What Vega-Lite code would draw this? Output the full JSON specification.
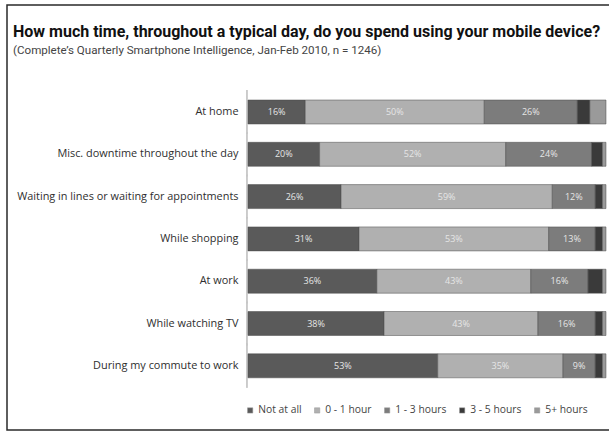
{
  "$schema": "https://vega.github.io/schema/vega-lite/v6.json",
  "width": 603,
  "height": 425,
  "autosize": {"type": "none"},
  "padding": {"left": 7, "top": 5, "right": 0, "bottom": 12},
  "background": "white",
  "config": {
    "view": {"stroke": "#2a2a2a", "strokeWidth": 1.5},
    "font": "Open Sans"
  },
  "title": {
    "text": "How much time, throughout a typical day, do you spend using your mobile device?",
    "subtitle": "(Complete’s Quarterly Smartphone Intelligence, Jan-Feb 2010, n = 1246)",
    "anchor": "start",
    "frame": "group",
    "orient": "top",
    "offset": 0,
    "dx": 6,
    "dy": 52,
    "font": "Roboto",
    "fontSize": 16,
    "fontWeight": "bold",
    "color": "#111",
    "subtitleFont": "Roboto",
    "subtitleFontSize": 11.6,
    "subtitleColor": "#444",
    "subtitlePadding": 5
  },
  "data": {
    "values": [
      {"cat": "At home", "time": "Not at all", "seq": 1, "value": 0.16},
      {"cat": "At home", "time": "0 - 1 hour", "seq": 2, "value": 0.50},
      {"cat": "At home", "time": "1 - 3 hours", "seq": 3, "value": 0.26},
      {"cat": "At home", "time": "3 - 5 hours", "seq": 4, "value": 0.035},
      {"cat": "At home", "time": "5+ hours", "seq": 5, "value": 0.045},
      {"cat": "Misc. downtime throughout the day", "time": "Not at all", "seq": 1, "value": 0.20},
      {"cat": "Misc. downtime throughout the day", "time": "0 - 1 hour", "seq": 2, "value": 0.52},
      {"cat": "Misc. downtime throughout the day", "time": "1 - 3 hours", "seq": 3, "value": 0.24},
      {"cat": "Misc. downtime throughout the day", "time": "3 - 5 hours", "seq": 4, "value": 0.03},
      {"cat": "Misc. downtime throughout the day", "time": "5+ hours", "seq": 5, "value": 0.01},
      {"cat": "Waiting in lines or waiting for appointments", "time": "Not at all", "seq": 1, "value": 0.26},
      {"cat": "Waiting in lines or waiting for appointments", "time": "0 - 1 hour", "seq": 2, "value": 0.59},
      {"cat": "Waiting in lines or waiting for appointments", "time": "1 - 3 hours", "seq": 3, "value": 0.12},
      {"cat": "Waiting in lines or waiting for appointments", "time": "3 - 5 hours", "seq": 4, "value": 0.02},
      {"cat": "Waiting in lines or waiting for appointments", "time": "5+ hours", "seq": 5, "value": 0.01},
      {"cat": "While shopping", "time": "Not at all", "seq": 1, "value": 0.31},
      {"cat": "While shopping", "time": "0 - 1 hour", "seq": 2, "value": 0.53},
      {"cat": "While shopping", "time": "1 - 3 hours", "seq": 3, "value": 0.13},
      {"cat": "While shopping", "time": "3 - 5 hours", "seq": 4, "value": 0.02},
      {"cat": "While shopping", "time": "5+ hours", "seq": 5, "value": 0.01},
      {"cat": "At work", "time": "Not at all", "seq": 1, "value": 0.36},
      {"cat": "At work", "time": "0 - 1 hour", "seq": 2, "value": 0.43},
      {"cat": "At work", "time": "1 - 3 hours", "seq": 3, "value": 0.16},
      {"cat": "At work", "time": "3 - 5 hours", "seq": 4, "value": 0.04},
      {"cat": "At work", "time": "5+ hours", "seq": 5, "value": 0.01},
      {"cat": "While watching TV", "time": "Not at all", "seq": 1, "value": 0.38},
      {"cat": "While watching TV", "time": "0 - 1 hour", "seq": 2, "value": 0.43},
      {"cat": "While watching TV", "time": "1 - 3 hours", "seq": 3, "value": 0.16},
      {"cat": "While watching TV", "time": "3 - 5 hours", "seq": 4, "value": 0.02},
      {"cat": "While watching TV", "time": "5+ hours", "seq": 5, "value": 0.01},
      {"cat": "During my commute to work", "time": "Not at all", "seq": 1, "value": 0.53},
      {"cat": "During my commute to work", "time": "0 - 1 hour", "seq": 2, "value": 0.35},
      {"cat": "During my commute to work", "time": "1 - 3 hours", "seq": 3, "value": 0.09},
      {"cat": "During my commute to work", "time": "3 - 5 hours", "seq": 4, "value": 0.02},
      {"cat": "During my commute to work", "time": "5+ hours", "seq": 5, "value": 0.01}
    ]
  },
  "transform": [
    {"stack": "value", "groupby": ["cat"], "sort": [{"field": "seq", "order": "ascending"}], "as": ["v0", "v1"]}
  ],
  "encoding": {
    "y": {
      "field": "cat",
      "type": "nominal",
      "sort": null,
      "scale": {"range": [95, 372.8], "paddingInner": 0.433, "paddingOuter": 0},
      "axis": {
        "title": null,
        "orient": "left",
        "offset": -241,
        "domain": false,
        "ticks": false,
        "labelPadding": 10,
        "labelFont": "Open Sans",
        "labelFontSize": 10.9,
        "labelColor": "#2e2e2e",
        "labelLimit": 300
      }
    }
  },
  "layer": [
    {
      "mark": {"type": "tick", "orient": "vertical", "size": 44, "thickness": 1, "color": "#c8c8c8"},
      "encoding": {
        "x": {"datum": -0.003, "type": "quantitative", "scale": {"domain": [-0.6732, 1.0112], "zero": false, "nice": false}, "axis": null}
      }
    },
    {
      "mark": {"type": "bar", "stroke": "#4a4a4a", "strokeWidth": 0.5},
      "encoding": {
        "x": {"field": "v0", "type": "quantitative", "scale": {"domain": [-0.6732, 1.0112], "zero": false, "nice": false}, "axis": null},
        "x2": {"field": "v1"},
        "color": {
          "field": "time",
          "type": "nominal",
          "sort": ["Not at all", "0 - 1 hour", "1 - 3 hours", "3 - 5 hours", "5+ hours"],
          "scale": {
            "domain": ["Not at all", "0 - 1 hour", "1 - 3 hours", "3 - 5 hours", "5+ hours"],
            "range": ["#5a5a5a", "#b0b0b0", "#7c7c7c", "#3a3a3a", "#9a9a9a"]
          },
          "legend": {
            "title": null,
            "orient": "none",
            "legendX": 238,
            "legendY": 400,
            "direction": "horizontal",
            "symbolType": "square",
            "symbolSize": 28,
            "symbolStrokeColor": "#999",
            "symbolStrokeWidth": 0.5,
            "labelFont": "Open Sans",
            "labelFontSize": 10.3,
            "labelColor": "#444",
            "columnPadding": 10,
            "labelOffset": 3
          }
        }
      }
    },
    {
      "transform": [
        {"filter": "datum.seq <= 3"},
        {"calculate": "(datum.v0 + datum.v1) / 2", "as": "mid"}
      ],
      "mark": {"type": "text", "fontSize": 9, "color": "#e6e6e6", "font": "Open Sans"},
      "encoding": {
        "x": {"field": "mid", "type": "quantitative", "scale": {"domain": [-0.6732, 1.0112], "zero": false, "nice": false}, "axis": null},
        "text": {"field": "value", "type": "quantitative", "format": ".0%"}
      }
    }
  ]
}
